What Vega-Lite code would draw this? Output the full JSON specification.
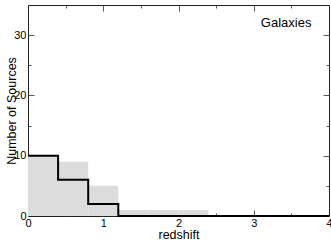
{
  "$schema": "https://vega.github.io/schema/vega-lite/v6.json",
  "autosize": "none",
  "width": 301,
  "height": 211,
  "padding": {"left": 28, "top": 5, "right": 2, "bottom": 24},
  "config": {
    "font": "Liberation Sans",
    "view": {"stroke": "#222", "strokeWidth": 1},
    "axis": {"domain": false, "grid": false, "tickColor": "#555", "labelColor": "#000", "labelFontSize": 11, "titleFontSize": 12.5, "titleFontWeight": "normal", "titleColor": "#000"}
  },
  "datasets": {
    "gray": [
      {"x0": 0.0, "x1": 0.4, "n": 10},
      {"x0": 0.4, "x1": 0.8, "n": 9},
      {"x0": 0.8, "x1": 1.2, "n": 5},
      {"x0": 1.2, "x1": 1.6, "n": 1},
      {"x0": 1.6, "x1": 2.0, "n": 1},
      {"x0": 2.0, "x1": 2.4, "n": 1}
    ],
    "black": [
      {"z": 0.0, "n": 10},
      {"z": 0.4, "n": 6},
      {"z": 0.8, "n": 2},
      {"z": 1.2, "n": 0},
      {"z": 4.0, "n": 0}
    ],
    "label": [{"z": 3.43, "n": 32, "t": "Galaxies"}]
  },
  "layer": [
    {
      "data": {"name": "gray"},
      "mark": {"type": "rect", "color": "#dcdcdc"},
      "encoding": {
        "x": {"field": "x0", "type": "quantitative", "scale": {"domain": [0, 4], "nice": false},
              "axis": {"orient": "bottom", "title": "redshift", "values": [0, 1, 2, 3, 4], "ticks": false, "labelPadding": 1, "titleY": 22, "titleBaseline": "alphabetic", "labelFlush": false}},
        "x2": {"field": "x1"},
        "y": {"field": "n", "type": "quantitative", "scale": {"domain": [0, 35], "nice": false},
              "axis": {"orient": "left", "title": "Number of Sources", "values": [0, 10, 20, 30], "ticks": false, "labelPadding": 2, "titleX": -13, "titleBaseline": "alphabetic"}},
        "y2": {"datum": 0}
      }
    },
    {
      "data": {"name": "gray"},
      "mark": {"type": "rule", "opacity": 0},
      "encoding": {
        "x": {"datum": 0, "type": "quantitative", "scale": {"domain": [0, 4], "nice": false},
              "axis": {"orient": "bottom", "title": null, "labels": false, "values": [1, 2, 3], "tickSize": -6}},
        "y": {"datum": 0, "type": "quantitative", "scale": {"domain": [0, 35], "nice": false},
              "axis": {"orient": "left", "title": null, "labels": false, "values": [10, 20, 30], "tickSize": -6}}
      }
    },
    {
      "data": {"name": "gray"},
      "mark": {"type": "rule", "opacity": 0},
      "encoding": {
        "x": {"datum": 0, "type": "quantitative", "scale": {"domain": [0, 4], "nice": false},
              "axis": {"orient": "bottom", "title": null, "labels": false, "values": [0.5, 1.5, 2.5, 3.5], "tickSize": -3}},
        "y": {"datum": 0, "type": "quantitative", "scale": {"domain": [0, 35], "nice": false},
              "axis": {"orient": "left", "title": null, "labels": false, "values": [5, 15, 25], "tickSize": -3}}
      }
    },
    {
      "data": {"name": "black"},
      "mark": {"type": "line", "interpolate": "step-after", "color": "#000", "strokeWidth": 2},
      "encoding": {
        "x": {"field": "z", "type": "quantitative",
              "axis": {"orient": "top", "title": null, "labels": false, "values": [1, 2, 3], "tickSize": -6}},
        "y": {"field": "n", "type": "quantitative",
              "axis": {"orient": "right", "title": null, "labels": false, "values": [10, 20, 30], "tickSize": -6}}
      }
    },
    {
      "data": {"name": "label"},
      "mark": {"type": "text", "fontSize": 13, "color": "#000"},
      "encoding": {
        "x": {"field": "z", "type": "quantitative",
              "axis": {"orient": "top", "title": null, "labels": false, "values": [0.5, 1.5, 2.5, 3.5], "tickSize": -3}},
        "y": {"field": "n", "type": "quantitative",
              "axis": {"orient": "right", "title": null, "labels": false, "values": [5, 15, 25], "tickSize": -3}},
        "text": {"field": "t"}
      }
    }
  ],
  "resolve": {"axis": {"x": "independent", "y": "independent"}}
}
